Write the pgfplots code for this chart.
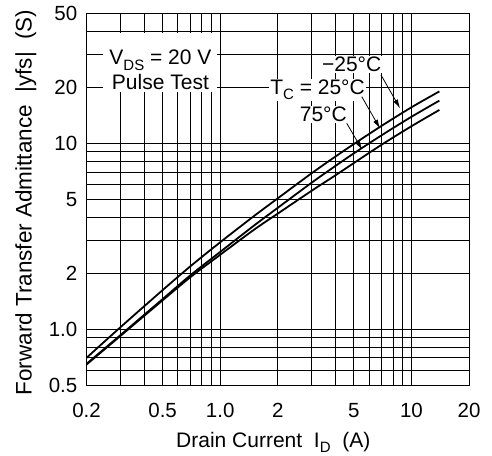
\documentclass[border=0pt]{standalone}
\usepackage{pgfplots}
\pgfplotsset{compat=1.18}
\usepackage{fontspec}
\setmainfont{Liberation Sans}
\usetikzlibrary{arrows.meta}
\newcommand{\sub}[1]{\raisebox{-0.24em}{\fontsize{15}{15}\selectfont #1}}

\begin{document}
\fontsize{21}{25}\selectfont
\begin{tikzpicture}
\path[use as bounding box] (0,0) rectangle (492pt,455pt);
\begin{axis}[
  at={(86.5pt,70pt)}, anchor=south west,
  scale only axis, width=382.5pt, height=371.7pt,
  xmode=log, ymode=log,
  xmin=0.2, xmax=20, ymin=0.5, ymax=50,
  xtick={0.2,0.5,1,2,5,10,20},
  xticklabels={0.2,0.5,1.0,2,5,10,20},
  ytick={0.5,1,2,5,10,20,50},
  yticklabels={0.5,1.0,2,5,10,20,50},
  minor xtick={0.3,0.4,0.6,0.7,0.8,0.9,3,4,6,7,8,9},
  minor ytick={0.6,0.7,0.8,0.9,3,4,6,7,8,9,30,40},
  grid=both,
  major grid style={black, line width=0.8pt},
  minor grid style={black, line width=0.8pt},
  axis line style={black, line width=0.9pt},
  major tick length=0pt, minor tick length=0pt,
  tick label style={font=\fontsize{20.5}{24}\selectfont},
  /pgf/number format/assume math mode=true,
  xticklabel style={yshift=-11pt},
  yticklabel style={xshift=-2pt},
  xlabel={Drain Current\ \ I\sub{D}\ \ (A)},
  ylabel={\fontsize{22.5}{26}\selectfont Forward Transfer Admittance\ \ |yfs|\ \ (S)},
  xlabel style={at={(axis description cs:0.4882,-0.1668)}, anchor=base},
  ylabel style={at={(axis description cs:-0.1433,0.491)}, anchor=base},
]
% -25 C
\addplot[black, line width=1.8pt, smooth] coordinates {
  (0.2,0.700) (0.3,1.02) (0.5,1.62) (0.7,2.18) (1,2.93) (1.5,4.05) (2,5.05)
  (3,6.88) (4,8.47) (5,9.90) (7,12.42) (10,15.6) (14,19.0)};
% 25 C
\addplot[black, line width=1.8pt, smooth] coordinates {
  (0.2,0.650) (0.3,0.925) (0.5,1.45) (0.7,1.95) (1,2.60) (1.5,3.60) (2,4.49)
  (3,6.12) (4,7.54) (5,8.82) (7,11.05) (10,13.87) (14,16.95)};
% 75 C
\addplot[black, line width=1.8pt, smooth] coordinates {
  (0.2,0.644) (0.3,0.916) (0.5,1.428) (0.7,1.905) (1,2.51) (1.5,3.42) (2,4.18)
  (3,5.54) (4,6.71) (5,7.82) (7,9.83) (10,12.34) (14,15.1)};

\fill[white] (axis cs:0.244,39.2) rectangle (axis cs:0.963,18.86);
\node[anchor=base] at (axis cs:0.487,26.35) {V\sub{DS} = 20 V};
\node[anchor=base] at (axis cs:0.487,19.5) {Pulse Test};

\node[fill=white, inner sep=1pt, anchor=base] at (axis cs:4.87,24.26) {−25°C};
\node[fill=white, inner sep=1pt, anchor=base] at (axis cs:3.23,18.2) {T\sub{C} = 25°C};
\node[fill=white, inner sep=1pt, anchor=base] at (axis cs:3.46,13.05) {75°C};

\draw[-{Latex[length=9pt,width=5pt]}, line width=0.8pt] (axis cs:6.93,23.3) -- (axis cs:8.72,15.4);
\draw[-{Latex[length=9pt,width=5pt]}, line width=0.8pt] (axis cs:5.5,17.8) -- (axis cs:6.85,12.0);
\draw[-{Latex[length=9pt,width=5pt]}, line width=0.8pt] (axis cs:4.59,12.8) -- (axis cs:5.53,9.2);
\end{axis}
\end{tikzpicture}
\end{document}
